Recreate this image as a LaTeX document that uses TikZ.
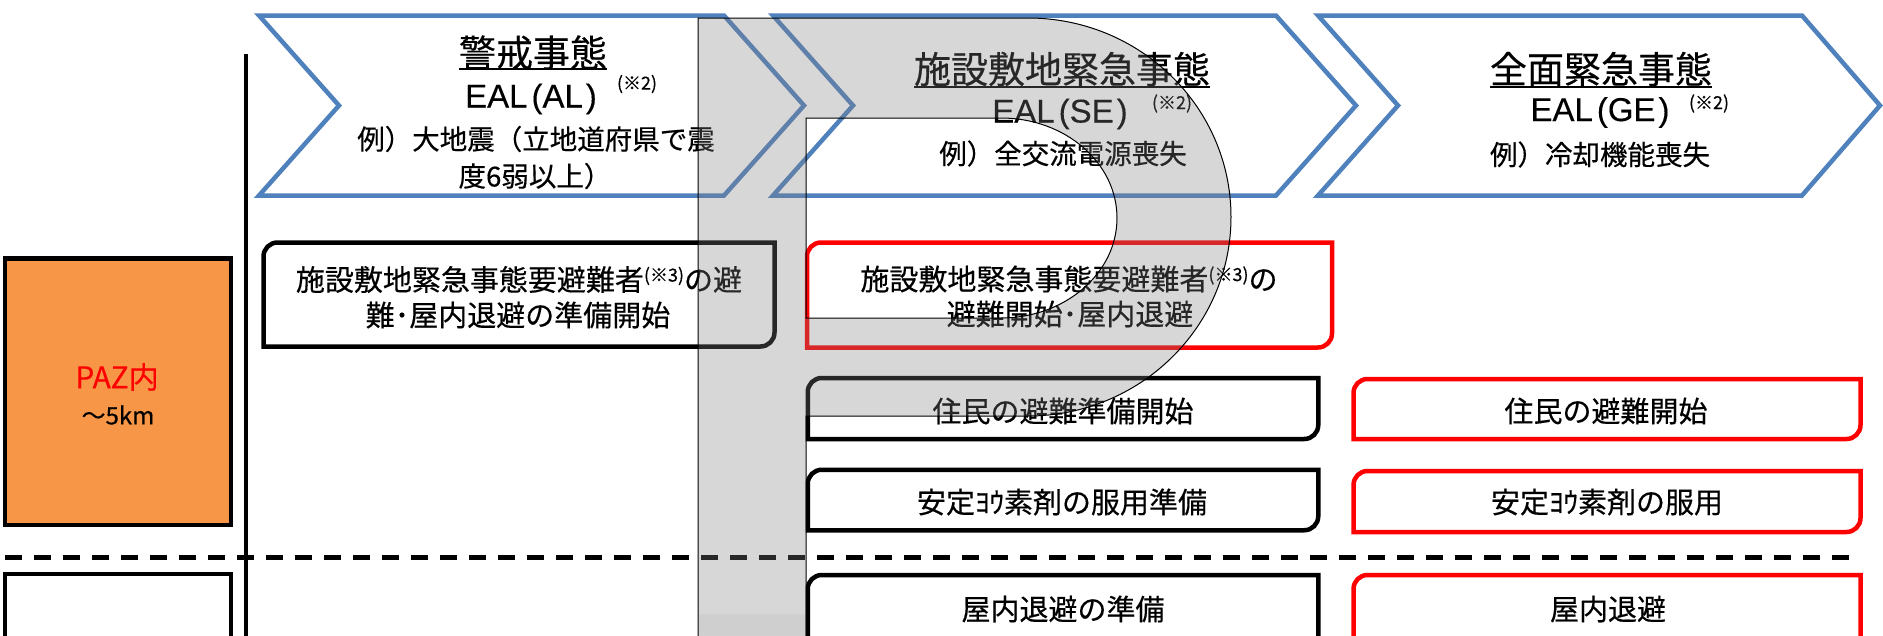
\documentclass[tikz,border=0pt]{standalone}
\usepackage{fontspec}
\setmainfont{Noto Sans CJK JP}[FakeBold=0.4]
\newfontfamily\latf{Liberation Sans}[FakeBold=0.3]
\usetikzlibrary{calc}
\definecolor{chevblue}{RGB}{79,129,189}
\definecolor{pazorange}{RGB}{247,150,70}
\definecolor{pazred}{RGB}{255,0,0}
\newcommand\fs[1]{\fontsize{#1}{#1}\selectfont}
\newcommand\dborder[2]{%
  \draw[line width=4.5pt,draw=#2,line join=miter]
    (#1.south west) -- ([yshift=-14pt]#1.north west)
    arc[start angle=180,end angle=90,radius=14pt]
    -- (#1.north east) -- ([yshift=14pt]#1.south east)
    arc[start angle=0,end angle=-90,radius=14pt] -- cycle;}
\begin{document}
\begin{tikzpicture}[x=1pt,y=1pt,
  chev/.style={draw=chevblue,line width=4.5pt,fill=white,line join=miter},
  txt/.style={inner sep=0pt,outer sep=0pt,anchor=center},
  ttl/.style={txt,font=\fs{37}},
  eal/.style={txt,font=\latf\fs{33}},
  supx/.style={txt,font=\fs{18}},
  exm/.style={txt,font=\fs{27.5}},
  btxt/.style={txt,font=\fs{29}},
  boxn/.style={inner sep=0pt,outer sep=0pt,rectangle},
  uline/.style={line width=2pt}]
\useasboundingbox (0,0) rectangle (1883,-635);
\clip (0,0) rectangle (1883,-635);
\fill[white] (0,0) rectangle (1883,-635);

% chevrons
\draw[chev] (259,-15.5) -- (724,-15.5) -- (804,-105.5) -- (724,-195.5) -- (259,-195.5) -- (339,-105.5) -- cycle;
\draw[chev] (773,-15.5) -- (1276,-15.5) -- (1356,-105.5) -- (1276,-195.5) -- (773,-195.5) -- (853,-105.5) -- cycle;
\draw[chev] (1318,-15.5) -- (1802,-15.5) -- (1880,-105.5) -- (1802,-195.5) -- (1318,-195.5) -- (1398,-105.5) -- cycle;

% chevron texts
\node[ttl] (c1t) at (533,-52.5) {警戒事態};
\draw[uline] (c1t.west |- 0,-69) -- (c1t.east |- 0,-69);
\node[eal] (c1e) at (531,-99) {EAL\kern4pt(AL\kern3pt)};
\node[supx] (c1s) at (637,-84) {(※2)};
\node[exm] (c1x1) at (536,-139) {例）大地震（立地道府県で震};
\node[exm] (c1x2) at (535,-176) {度6弱以上）};

\node[ttl] (c2t) at (1062,-69) {施設敷地緊急事態};
\draw[uline] (c2t.west |- 0,-87) -- (c2t.east |- 0,-87);
\node[eal] (c2e) at (1060,-114) {EAL\kern4pt(SE\kern3pt)};
\node[supx] (c2s) at (1172,-103.5) {(※2)};
\node[exm] (c2x) at (1063,-153.5) {例）全交流電源喪失};

\node[ttl] (c3t) at (1601,-69) {全面緊急事態};
\draw[uline] (c3t.west |- 0,-87) -- (c3t.east |- 0,-87);
\node[eal] (c3e) at (1600,-112.5) {EAL\kern4pt(GE\kern3pt)};
\node[supx] (c3s) at (1709,-103.5) {(※2)};
\node[exm] (c3x) at (1600,-154.5) {例）冷却機能喪失};

% vertical separator
\draw[line width=3.5pt] (246,-54) -- (246,-640);

% left zone boxes
\node[boxn,draw,line width=4.5pt,fill=pazorange,minimum width=226pt,minimum height=266.5pt] (paz) at (118,-391.75) {};
\node[txt,font=\fs{30},text=pazred] (pazt) at (117,-377) {PAZ内};
\node[txt,font=\fs{24}] (pazk) at (118,-415) {～5km};
\node[boxn,draw,line width=4.5pt,fill=white,minimum width=226pt,minimum height=86pt] (upz) at (118,-617) {};

% dashed separator
\draw[line width=5pt,dash pattern=on 17pt off 12pt] (5,-557) -- (1855,-557);

% action boxes
\node[boxn,minimum width=511pt,minimum height=104pt] (bA) at (519,-294.5) {};
\node[boxn,minimum width=525pt,minimum height=105pt] (bB) at (1069.5,-295) {};
\node[boxn,minimum width=510.5pt,minimum height=61pt] (bC) at (1063,-408.5) {};
\node[boxn,minimum width=507pt,minimum height=60pt] (bD) at (1607,-409) {};
\node[boxn,minimum width=510.5pt,minimum height=60.5pt] (bE) at (1063,-500) {};
\node[boxn,minimum width=507pt,minimum height=61pt] (bF) at (1607,-501.5) {};
\node[boxn,minimum width=510.5pt,minimum height=75pt] (bG) at (1063,-612.5) {};
\node[boxn,minimum width=507pt,minimum height=75pt] (bH) at (1607,-612.5) {};
\dborder{bA}{black}
\dborder{bB}{pazred}
\dborder{bC}{black}
\dborder{bD}{pazred}
\dborder{bE}{black}
\dborder{bF}{pazred}
\dborder{bG}{black}
\dborder{bH}{pazred}

\node[btxt] (tA1) at (519,-279.5) {施設敷地緊急事態要避難者\raisebox{9pt}{\fs{18}(※3)}の避};
\node[btxt] (tA2) at (518,-315) {難･屋内退避の準備開始};
\node[btxt] (tB1) at (1069,-279) {施設敷地緊急事態要避難者\raisebox{9pt}{\fs{18}(※3)}の};
\node[btxt] (tB2) at (1070,-314) {避難開始･屋内退避};
\node[btxt] (tC) at (1063,-411) {住民の避難準備開始};
\node[btxt] (tD) at (1606,-411) {住民の避難開始};
\node[btxt] (tE) at (1062,-502) {安定ﾖｳ素剤の服用準備};
\node[btxt] (tF) at (1607,-502) {安定ﾖｳ素剤の服用};
\node[btxt] (tG) at (1063,-609) {屋内退避の準備};
\node[btxt] (tH) at (1608,-609) {屋内退避};

% translucent grey U-turn band on top
\path[draw=black,line width=1pt,fill=gray,fill opacity=0.31,even odd rule]
  (698,-660) -- (698,-18) -- (1028,-18)
  arc[start angle=90,end angle=-90,x radius=203,y radius=199]
  -- (806,-416) -- (806,-660) -- cycle
  (806,-118) -- (1001,-118)
  arc[start angle=90,end angle=-90,x radius=116,y radius=100]
  -- (806,-318) -- cycle;
\fill[black,fill opacity=0.035] (698.5,-614) rectangle (805.5,-660);
\end{tikzpicture}
\end{document}
